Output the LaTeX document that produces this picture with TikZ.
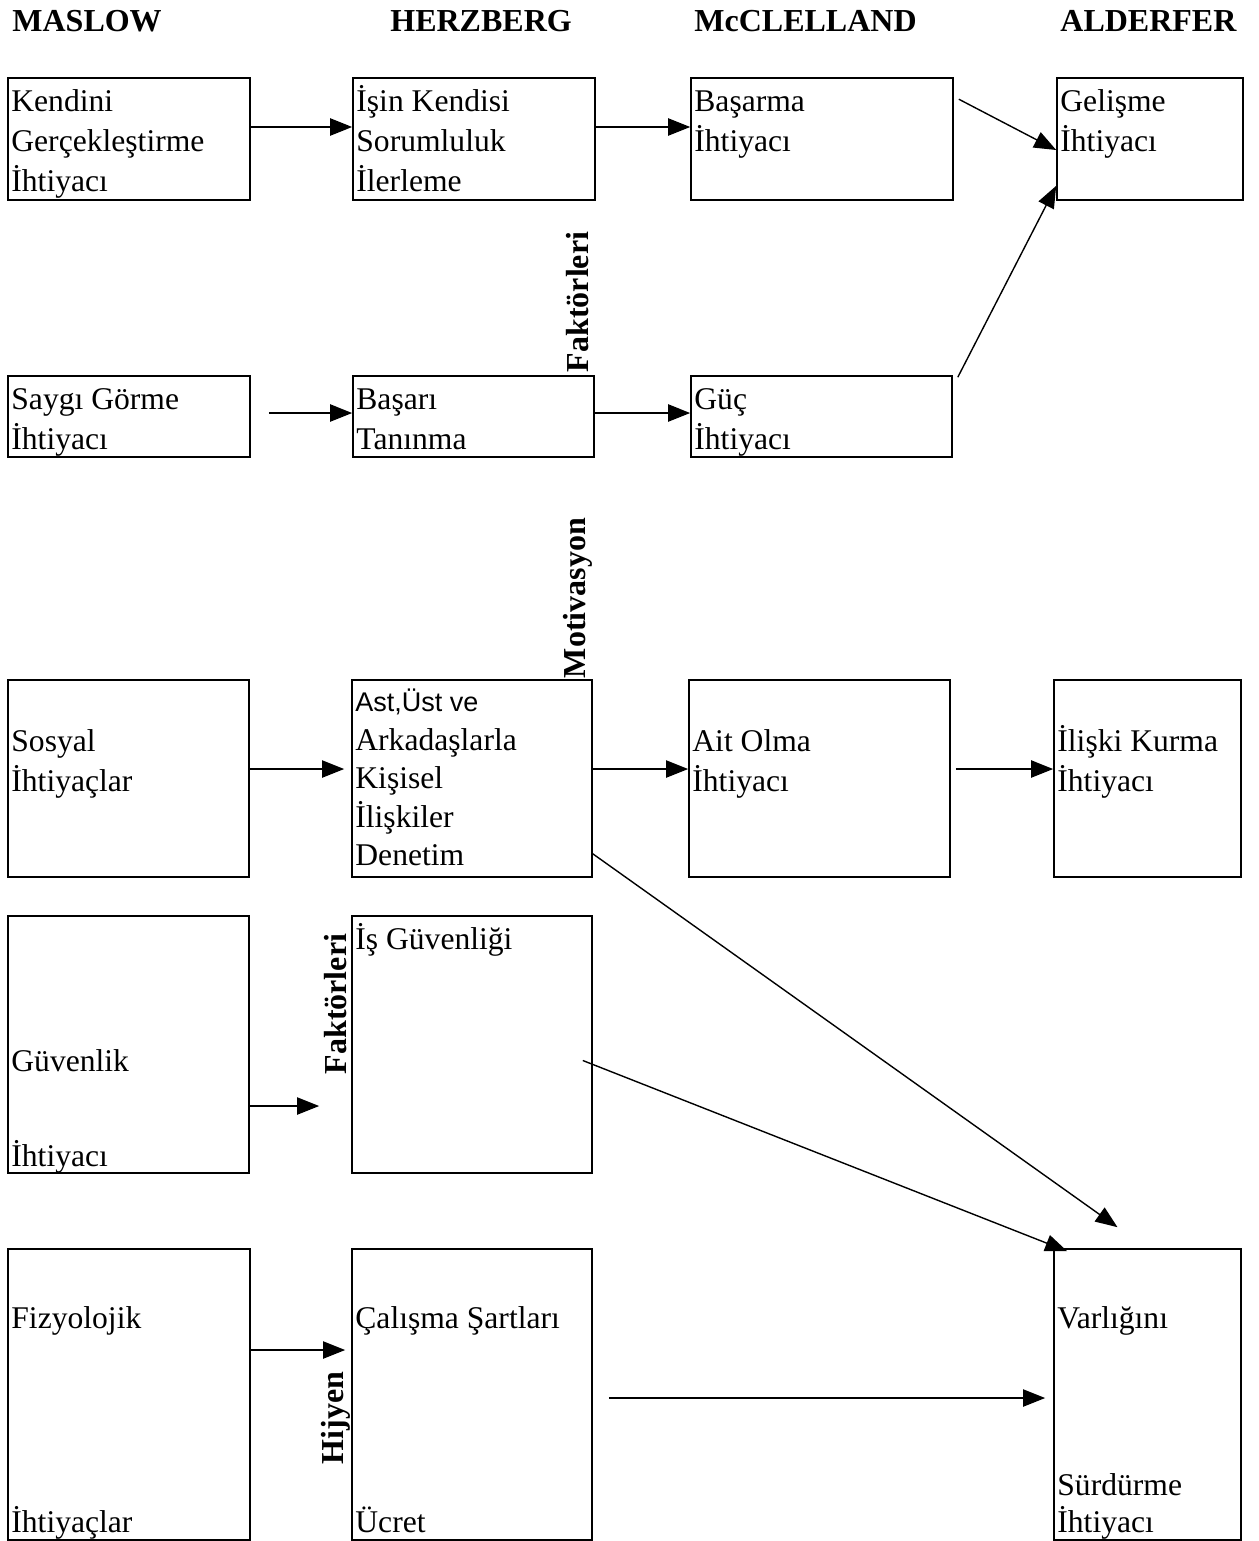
\documentclass[tikz,border=0pt]{standalone}
\usepackage{fontspec}
\setmainfont{Liberation Serif}
\newfontfamily\arialfont{Liberation Sans}
\usepackage{tikz}
\usetikzlibrary{arrows.meta, positioning, fit, calc}
\newcommand{\firstln}{\rule{0pt}{15pt}}
\tikzstyle{box} = [rectangle, draw=black, line width=0.8pt, inner sep=0pt]
\tikzstyle{txt} = [anchor=north west, inner sep=0pt, align=left, font=\fontsize{15.8}{20}\selectfont]
\tikzstyle{head} = [anchor=base west, inner sep=0pt, font=\fontsize{16}{19}\selectfont\bfseries]
\tikzstyle{side} = [rotate=90, inner sep=0pt, font=\fontsize{16}{19}\selectfont\bfseries]
\tikzstyle{arrow} = [line width=1pt, -{Triangle[length=11pt, width=8.5pt]}]
\tikzstyle{slant} = [line width=0.7pt, -{Triangle[length=11pt, width=8.5pt]}]

\begin{document}
\begin{tikzpicture}[x=0.5pt, y=-0.5pt]
	\useasboundingbox (0,0) rectangle (1258,1541);
	% column heads
	\node (maslow) [head] at (12,32) {MASLOW};
	\node (herz) [head] at (390,32) {HERZBERG};
	\node (mccl) [head] at (694,32) {McCLELLAND};
	\node (alder) [head] at (1060,32) {ALDERFER};
	% boxes
	\node (m1) [box, fit={(8,78) (250,200)}] {};
	\node (h1) [box, fit={(353,78) (595,200)}] {};
	\node (c1) [box, fit={(691,78) (953,200)}] {};
	\node (a1) [box, fit={(1057,78) (1243,200)}] {};
	\node (m2) [box, fit={(8,376) (250,457)}] {};
	\node (h2) [box, fit={(353,376) (594,457)}] {};
	\node (c2) [box, fit={(691,376) (952,457)}] {};
	\node (m3) [box, fit={(8,680) (249,877)}] {};
	\node (h3) [box, fit={(352,680) (592,877)}] {};
	\node (c3) [box, fit={(689,680) (950,877)}] {};
	\node (a3) [box, fit={(1054,680) (1241,877)}] {};
	\node (m4) [box, fit={(8,916) (249,1173)}] {};
	\node (h4) [box, fit={(352,916) (592,1173)}] {};
	\node (m5) [box, fit={(8,1249) (250,1540)}] {};
	\node (h5) [box, fit={(352,1249) (592,1540)}] {};
	\node (a5) [box, fit={(1054,1249) (1241,1540)}] {};
	% box texts
	\node (m1t) [txt] at (11,81) {\firstln Kendini\\Gerçekleştirme\\İhtiyacı};
	\node (h1t) [txt] at (356,81) {\firstln İşin Kendisi\\Sorumluluk\\İlerleme};
	\node (c1t) [txt] at (694,81) {\firstln Başarma\\İhtiyacı};
	\node (a1t) [txt] at (1060,81) {\firstln Gelişme\\İhtiyacı};
	\node (m2t) [txt] at (11,379) {\firstln Saygı Görme\\İhtiyacı};
	\node (h2t) [txt] at (356,379) {\firstln Başarı\\Tanınma};
	\node (c2t) [txt] at (694,379) {\firstln Güç\\İhtiyacı};
	\node (m3t) [txt] at (11,721) {\firstln Sosyal\\İhtiyaçlar};
	\node (h3t) [txt, font=\fontsize{15.8}{19.3}\selectfont] at (355,681) {\firstln{\arialfont\fontsize{13.5}{19.3}\selectfont Ast,Üst ve}\\Arkadaşlarla\\Kişisel\\İlişkiler\\Denetim};
	\node (c3t) [txt] at (692,721) {\firstln Ait Olma\\İhtiyacı};
	\node (a3t) [txt] at (1057,721) {\firstln İlişki Kurma\\İhtiyacı};
	\node (m4t) [txt] at (11,1041) {\firstln Güvenlik};
	\node (m4u) [txt] at (11,1136) {\firstln İhtiyacı};
	\node (h4t) [txt] at (355,919) {\firstln İş Güvenliği};
	\node (m5t) [txt] at (11,1298) {\firstln Fizyolojik};
	\node (m5u) [txt] at (11,1502) {\firstln İhtiyaçlar};
	\node (h5t) [txt] at (355,1298) {\firstln Çalışma Şartları};
	\node (h5u) [txt] at (355,1502) {\firstln Ücret};
	\node (a5t) [txt] at (1057,1298) {\firstln Varlığını};
	\node (a5u) [txt, font=\fontsize{15.8}{18.5}\selectfont] at (1057,1465) {\firstln Sürdürme\\İhtiyacı};
	% side labels
	\node (fak1) [side] at (578,302) {Faktörleri};
	\node (motiv) [side] at (578,598) {Motivasyon};
	\node (fak2) [side] at (336,1004) {Faktörleri};
	\node (hijyen) [side] at (336,1418) {Hijyen};
	% arrow rows
	\coordinate (r1) at (0,127);
	\coordinate (r2) at (0,413);
	\coordinate (r3) at (0,769);
	\coordinate (r4) at (0,1106);
	\coordinate (r5) at (0,1350);
	\coordinate (r6) at (0,1398);
	\draw [arrow] (m1.east |- r1) -- (h1.west |- r1);
	\draw [arrow] (h1.east |- r1) -- (c1.west |- r1);
	\draw [arrow, shorten <=9pt] (m2.east |- r2) -- (h2.west |- r2);
	\draw [arrow] (h2.east |- r2) -- (c2.west |- r2);
	\draw [arrow, shorten >=3.5pt] (m3.east |- r3) -- (h3.west |- r3);
	\draw [arrow] (h3.east |- r3) -- (c3.west |- r3);
	\draw [arrow, shorten <=2.5pt] (c3.east |- r3) -- (a3.west |- r3);
	\draw [arrow, shorten >=16pt] (m4.east |- r4) -- (h4.west |- r4);
	\draw [arrow, shorten >=3pt] (m5.east |- r5) -- (h5.west |- r5);
	\draw [arrow, shorten <=8pt, shorten >=4pt] (h5.east |- r6) -- (a5.west |- r6);
	% slanted arrows
	\draw [slant] ($(c1.north east)+(5,22)$) -- ($(a1.west)+(0,11)$);
	\draw [slant] ($(c2.north east)+(5,2)$) -- ($(a1.south west)+(0,-15)$);
	\draw [slant] ($(h3.south east)+(0,-24)$) -- ($(a5.north)+(-30,-21)$);
	\draw [slant] ($(h4.east)+(-10,16)$) -- ($(a5.north west)+(14,3)$);
\end{tikzpicture}
\end{document}
